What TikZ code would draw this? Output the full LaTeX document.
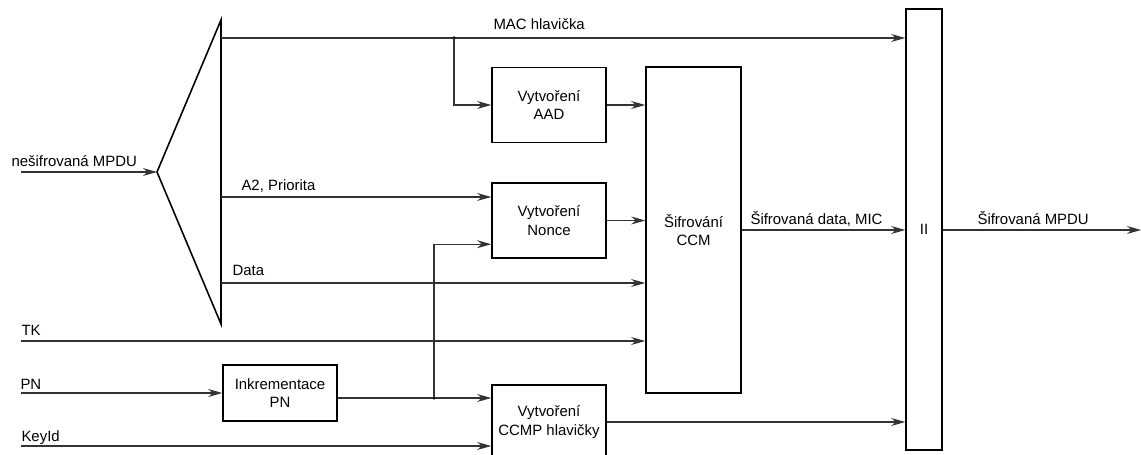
\documentclass[tikz,border=0pt]{standalone}
\usepackage{fontspec}
\setmainfont{Liberation Sans}
\usetikzlibrary{arrows.meta,calc}

\begin{document}
\begin{tikzpicture}[x=0.02cm,y=-0.02cm,font=\fontsize{8.5}{10.6}\selectfont,
  line width=0.6pt,
  blok/.style={draw,line width=0.9pt,align=center,inner sep=0pt,minimum width=2.28cm},
  sipka/.style={draw=black!80,-{Stealth[length=8pt,width=4.5pt]}},
  popis/.style={anchor=base west,inner sep=0pt}]
  \useasboundingbox (0,0) rectangle (1141,455);
  % rozdeleni MPDU
  \draw[line width=0.9pt] (221,20) coordinate (ttop) -- (157,172) coordinate (apex)
    -- (221,324) coordinate (tbot) -- cycle;
  \node[blok,minimum height=1.5cm] (aad) at (549,105) {Vytvoření\\AAD};
  \node[blok,minimum height=1.5cm] (nonce) at (549,220.5) {Vytvoření\\Nonce};
  \node[blok,minimum height=1.48cm] (ccmp) at (549,422) {Vytvoření\\CCMP hlavičky};
  \node[blok,minimum height=1.12cm] (inkr) at (280,393) {Inkrementace\\PN};
  \node[blok,minimum width=1.9cm,minimum height=6.52cm] (ccm) at (693.5,230) {Šifrování\\CCM};
  \node[blok,minimum width=0.72cm,minimum height=8.82cm] (ii) at (924,229.5) {II};
  % vstupy a odbocky
  \coordinate (in) at (21,172);
  \coordinate (mac) at (221,38);
  \coordinate (a2) at (221,197);
  \coordinate (data) at (221,283);
  \coordinate (tk) at (21,341);
  \coordinate (pn) at (21,393);
  \coordinate (keyid) at (21,446);
  \coordinate (j1) at (454,38);
  \coordinate (j2) at (434,398);
  \coordinate (out) at (1141,230);
  % spoje
  \draw[sipka] (in) -- (apex);
  \draw[sipka] (mac) -- (mac -| ii.west);
  \fill (j1) circle (1pt);
  \draw[sipka] (j1) |- (aad.west);
  \draw[sipka] (aad.east) -- (ccm.west |- aad.east);
  \draw[sipka] (a2) -- (a2 -| nonce.west);
  \draw[sipka] (nonce.east) -- (ccm.west |- nonce.east);
  \draw[sipka] (data) -- (data -| ccm.west);
  \draw[sipka] (tk) -- (tk -| ccm.west);
  \draw[sipka] (pn) -- (inkr.west);
  \draw[sipka] (inkr.east |- j2) -- (j2 -| ccmp.west);
  \fill (j2) circle (1pt);
  \draw[sipka] (j2) |- ($(nonce.south west)!0.19!(nonce.north west)$);
  \draw[sipka] (keyid) -- (keyid -| ccmp.west);
  \draw[sipka] (ccmp.east) -- (ccmp.east -| ii.west);
  \draw[sipka] (ccm.east) -- (ccm.east -| ii.west);
  \draw[sipka] (ii.east |- out) -- (out);
  % popisky
  \node[popis] (lin) at (11,167) {nešifrovaná MPDU};
  \node[popis] (lmac) at (493,30) {MAC hlavička};
  \node[popis] (la2) at (241,191) {A2, Priorita};
  \node[popis] (ldata) at (232,276) {Data};
  \node[popis] (ltk) at (21,336) {TK};
  \node[popis] (lpn) at (20,389) {PN};
  \node[popis] (lkeyid) at (21,441) {KeyId};
  \node[popis] (lsif) at (750,225) {Šifrovaná data, MIC};
  \node[popis] (lout) at (977,225) {Šifrovaná MPDU};
\end{tikzpicture}
\end{document}
